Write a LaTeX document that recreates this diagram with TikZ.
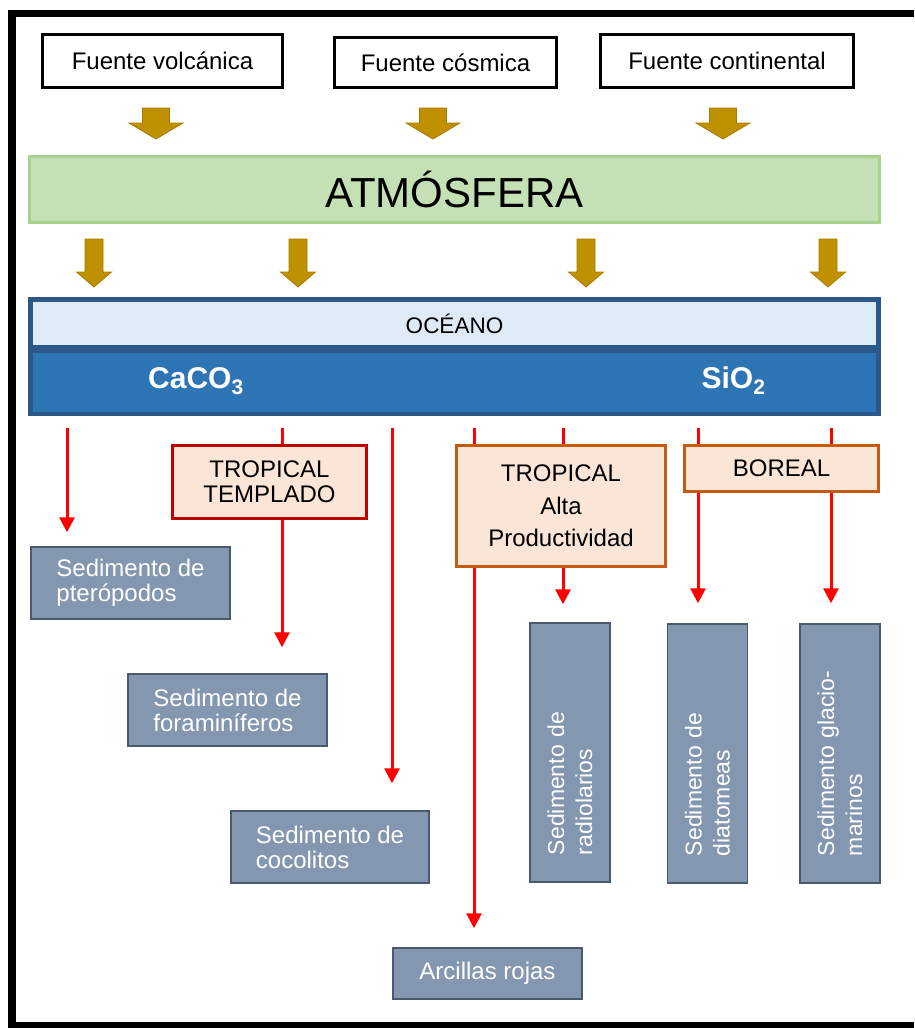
\documentclass[tikz,border=0pt]{standalone}
\usepackage{fontspec}
\setmainfont{Liberation Sans}
\usetikzlibrary{arrows.meta}
\definecolor{atmfill}{HTML}{C5E0B4}
\definecolor{atmdraw}{HTML}{A9D18E}
\definecolor{navy}{HTML}{2B5888}
\definecolor{oceanlight}{HTML}{DEEBF7}
\definecolor{oceanblue}{HTML}{2E75B6}
\definecolor{climfill}{HTML}{FBE5D6}
\definecolor{ttred}{HTML}{C00000}
\definecolor{orng}{HTML}{C55A11}
\definecolor{slate}{HTML}{8497B0}
\definecolor{slatedraw}{HTML}{4A5A6E}
\definecolor{gold}{HTML}{BF9000}
\definecolor{golddark}{HTML}{A67C00}
\definecolor{arrowred}{HTML}{FF0000}
\begin{document}
\begin{tikzpicture}[x=1pt,y=-1pt,
  srcbox/.style={draw=black,line width=2.5pt,fill=white,inner sep=0pt,font=\fontsize{24}{25}\selectfont},
  climbox/.style={fill=climfill,line width=3pt,font=\fontsize{24}{25}\selectfont,align=center,inner sep=0pt},
  sedbox/.style={fill=slate,draw=slatedraw,line width=1.5pt,text=white,font=\fontsize{24}{25}\selectfont,align=left,inner sep=0pt},
  vsed/.style={sedbox,rotate=90,minimum width=259pt,minimum height=80pt,text width=205pt,inner xsep=27pt,font=\fontsize{23}{28}\selectfont},
  rline/.style={draw=arrowred,line width=3pt},
  rarrow/.style={rline,-{Triangle[width=15pt,length=15pt]}},
  barrow/.style={fill=gold,draw=golddark,line width=0.8pt}]
\useasboundingbox (0,0) rectangle (914,1028);
% frame
\fill[black] (8,10) rectangle (914,17);
\fill[black] (8,10) rectangle (16,1028);
\fill[black] (8,1022) rectangle (914,1028);
% sources
\node[srcbox,minimum width=240pt,minimum height=53pt] (fv) at (162.5,61) {Fuente volcánica};
\node[srcbox,minimum width=222pt,minimum height=50pt] (fc) at (445.5,62.5) {Fuente cósmica};
\node[srcbox,minimum width=253pt,minimum height=53pt] (fk) at (727,61) {Fuente continental};
% brown block arrows
\foreach \c in {156,433,723}
  \filldraw[barrow] (\c-13.5,108) -- (\c+13.5,108) -- (\c+13.5,123) -- (\c+27,123) -- (\c,139) -- (\c-27,123) -- (\c-13.5,123) -- cycle;
\foreach \c in {94,298,586,828}
  \filldraw[barrow] (\c-9,239) -- (\c+9,239) -- (\c+9,272) -- (\c+17.5,272) -- (\c,287) -- (\c-17.5,272) -- (\c-9,272) -- cycle;
% atmosphere
\node[fill=atmfill,draw=atmdraw,line width=2.5pt,minimum width=850pt,minimum height=66pt,inner sep=0pt,font=\fontsize{42}{45}\selectfont] (atm) at (454.5,189.5) {ATMÓSFERA};
% ocean
\node[fill=navy,minimum width=853pt,minimum height=119pt,inner sep=0pt] (ocean) at (454.5,356.5) {};
\node[fill=oceanlight,minimum width=843pt,minimum height=43pt,inner sep=0pt,font=\fontsize{22.5}{24}\selectfont] (oclabel) at (454.5,323.5) {OCÉANO};
\node[fill=oceanblue,minimum width=843pt,minimum height=59pt,inner sep=0pt] (ocblue) at (454.5,382.5) {};
\node[text=white,font=\bfseries\fontsize{30}{32}\selectfont,anchor=base,inner sep=0pt] (caco) at (196,388) {CaCO\textsubscript{3}};
\node[text=white,font=\bfseries\fontsize{30}{32}\selectfont,anchor=base,inner sep=0pt] (sio) at (733.5,388) {SiO\textsubscript{2}};
% climate boxes
\node[climbox,draw=ttred,minimum width=194pt,minimum height=73pt] (tt) at (269.5,482) {TROPICAL\\TEMPLADO};
\node[climbox,draw=orng,minimum width=209pt,minimum height=121pt,font=\fontsize{24}{32.5}\selectfont] (ta) at (561,506) {TROPICAL\\Alta\\Productividad};
\node[climbox,draw=orng,minimum width=194pt,minimum height=46pt] (bo) at (781.5,468.5) {BOREAL};
% sediments
\node[sedbox,minimum width=199pt,minimum height=72pt] (pt) at (130.5,583) {Sedimento de\\pterópodos};
\node[sedbox,minimum width=199pt,minimum height=72pt] (fo) at (227.5,710) {Sedimento de\\foraminíferos};
\node[sedbox,minimum width=198pt,minimum height=72pt] (co) at (330,847) {Sedimento de\\cocolitos};
\node[sedbox,minimum width=189pt,minimum height=51pt] (ar) at (487.5,973.5) {Arcillas rojas};
\node[vsed] (ra) at (570,752.5) {Sedimento de\\radiolarios};
\node[vsed] (di) at (707.5,753.5) {Sedimento de\\diatomeas};
\node[vsed] (gl) at (840,753.5) {Sedimento glacio-\\marinos};
% red arrows
\coordinate (s1) at (67,428);
\coordinate (s2) at (282,428);
\coordinate (s3) at (392,428);
\coordinate (s4) at (474,428);
\coordinate (s5) at (563,428);
\coordinate (s6) at (698,428);
\coordinate (s7) at (831,428);
\draw[rarrow,shorten >=14pt] (s1) -- (s1 |- pt.north);
\draw[rline] (s2) -- (s2 |- tt.north);
\draw[rarrow,shorten >=26pt] (s2 |- tt.south) -- (s2 |- fo.north);
\draw[rarrow,shorten >=27pt] (s3) -- (s3 |- co.north);
\draw[rline] (s4) -- (s4 |- ta.north);
\draw[rarrow,shorten >=19pt] (s4 |- ta.south) -- (s4 |- ar.north);
\draw[rline] (s5) -- (s5 |- ta.north);
\draw[rarrow,shorten >=18pt] (s5 |- ta.south) -- (s5 |- ra.east);
\draw[rline] (s6) -- (s6 |- bo.north);
\draw[rarrow,shorten >=20pt] (s6 |- bo.south) -- (s6 |- di.east);
\draw[rline] (s7) -- (s7 |- bo.north);
\draw[rarrow,shorten >=20pt] (s7 |- bo.south) -- (s7 |- gl.east);
\end{tikzpicture}
\end{document}
